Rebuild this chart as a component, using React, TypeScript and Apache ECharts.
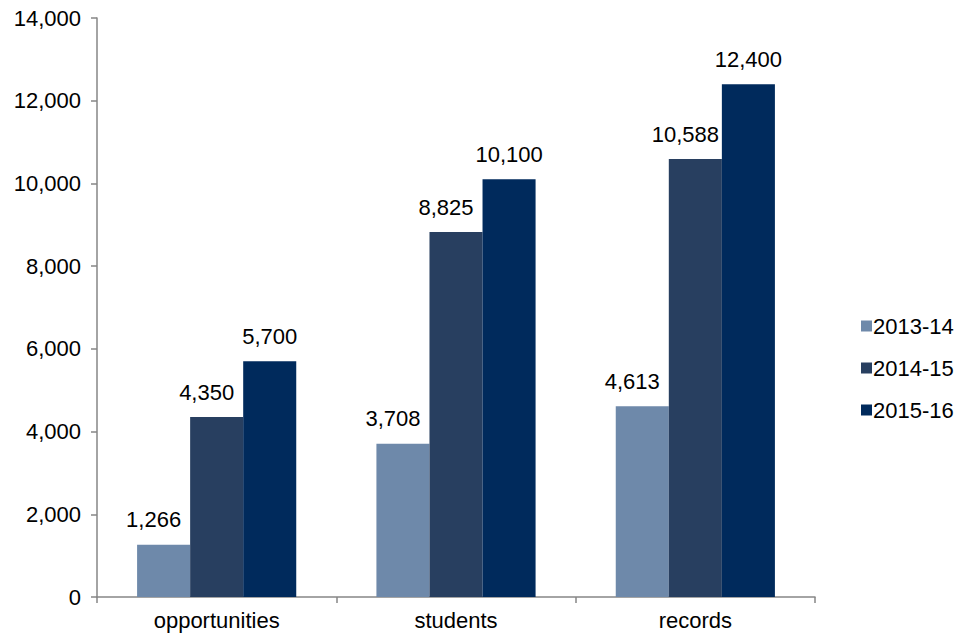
import React, { useEffect, useRef } from "react";
import * as echarts from "echarts";

const categories = ["opportunities", "students", "records"];
const seriesNames = ["2013-14", "2014-15", "2015-16"];
const values2013 = [1266, 3708, 4613];
const values2014 = [4350, 8825, 10588];
const values2015 = [5700, 10100, 12400];
const colors = ["#6E89AA", "#283F60", "#002A5C"];
const labelShiftX = [-10, -10, 0];

const FONT = "'Liberation Sans', Arial, sans-serif";
const FS = 22;

export default function App() {
  const ref = useRef<HTMLDivElement>(null);
  useEffect(() => {
    if (!ref.current) return;
    const chart = echarts.init(ref.current, undefined, { renderer: "svg" });
    const data = [values2013, values2014, values2015];
    chart.setOption({
      animation: false,
      textStyle: { fontFamily: FONT },
      grid: { left: 97, right: 146, top: 18, bottom: 42, containLabel: false },
      legend: {
        orient: "vertical",
        left: 856,
        top: 309,
        itemWidth: 11,
        itemHeight: 11,
        itemGap: 18,
        icon: "rect",
        textStyle: { fontSize: FS, color: "#000", fontFamily: FONT, lineHeight: 24, padding: [0, 0, 0, -4] },
        data: seriesNames,
      },
      xAxis: {
        type: "category",
        data: categories,
        axisLine: { lineStyle: { color: "#868686", width: 1.5 } },
        axisTick: { show: true, alignWithLabel: false, length: 6, lineStyle: { color: "#868686", width: 1.5 } },
        axisLabel: { fontSize: FS, color: "#000", margin: 12, fontFamily: FONT },
      },
      yAxis: {
        type: "value",
        min: 0,
        max: 14000,
        interval: 2000,
        axisLine: { show: true, lineStyle: { color: "#868686", width: 1.5 } },
        axisTick: { show: true, length: 6, lineStyle: { color: "#868686", width: 1.5 } },
        splitLine: { show: false },
        axisLabel: {
          fontSize: FS,
          color: "#000",
          margin: 16,
          fontFamily: FONT,
          formatter: (v: number) => v.toLocaleString("en-US"),
        },
      },
      series: seriesNames.map((name, i) => ({
        name,
        type: "bar",
        data: data[i],
        barGap: "0%",
        barCategoryGap: "33.5%",
        itemStyle: { color: colors[i] },
        label: {
          show: true,
          position: "top",
          distance: 14,
          offset: [labelShiftX[i], 0],
          fontSize: FS,
          color: "#000",
          fontFamily: FONT,
          formatter: (p: any) => Number(p.value).toLocaleString("en-US"),
        },
      })),
    });
    return () => chart.dispose();
  }, []);
  return <div ref={ref} style={{ width: 961, height: 639, position: "absolute", left: 0, top: 0, background: "#fff" }} />;
}
